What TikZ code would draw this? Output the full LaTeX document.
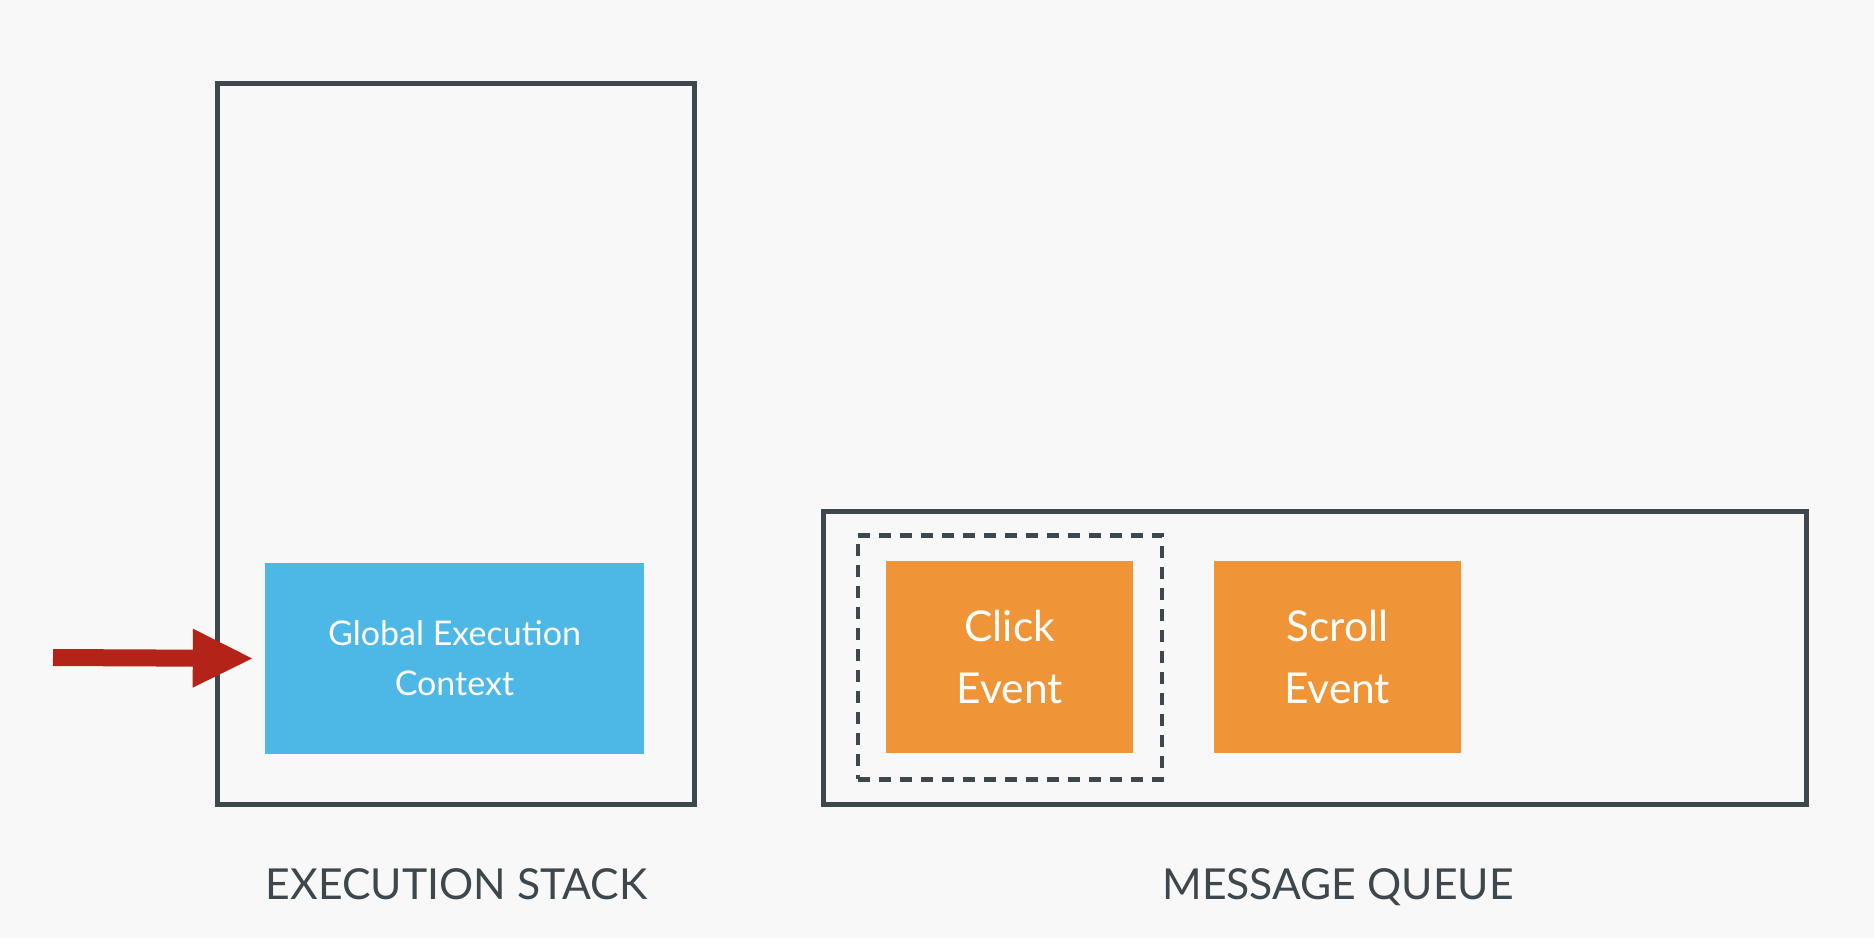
\documentclass[tikz,border=0pt]{standalone}
\usepackage{fontspec}
\setmainfont{Lato}
\usetikzlibrary{arrows.meta}
\definecolor{bgcol}{HTML}{F8F8F8}
\definecolor{framecol}{HTML}{3D484E}
\definecolor{gecblue}{HTML}{4DB7E5}
\definecolor{evorange}{HTML}{EF9537}
\definecolor{ptrred}{HTML}{B42318}
\tikzset{
  frame/.style={draw=framecol, line width=5pt, rectangle, inner sep=0pt, outer sep=0pt},
  dashbox/.style={draw=framecol, line width=4.5pt, rectangle, inner sep=0pt,
    dash pattern=on 12pt off 9pt},
  gecbox/.style={fill=gecblue, text=white, rectangle, inner sep=0pt,
    minimum width=379pt, minimum height=191pt, align=center,
    font=\fontsize{34pt}{50pt}\selectfont},
  eventbox/.style={fill=evorange, text=white, rectangle, inner sep=0pt,
    minimum width=247pt, minimum height=192pt, align=center,
    font=\fontsize{42.5pt}{62pt}\selectfont},
  caption/.style={text=framecol, anchor=base, inner sep=0pt,
    font=\fontsize{42.7pt}{50pt}\selectfont},
  pointer/.style={draw=ptrred, line width=17pt,
    -{Triangle[length=61pt,width=54pt]}, shorten >=11pt}
}
\begin{document}
\begin{tikzpicture}[x=1pt,y=-1pt]
  % canvas
  \fill[bgcol] (0,0) rectangle (1874,938);
  \useasboundingbox (0,0) rectangle (1874,938);

  % execution stack
  \node[frame, minimum width=477pt, minimum height=721pt] (stack) at (455.5,444) {};
  \node[gecbox] (gec) at (454.5,658.5) {Global Execution\\Context};

  % message queue
  \node[frame, minimum width=983pt, minimum height=293pt] (queue) at (1315.3,657.7) {};
  \node[dashbox, minimum width=304pt, minimum height=244pt] (current) at (1010,657.4) {};
  \node[eventbox] (click) at (1009.8,657.3) {Click\\Event};
  \node[eventbox] (scroll) at (1337.2,657.3) {Scroll\\Event};

  % captions
  \node[caption] (stacklabel) at (456.5,899) {EXECUTION STACK};
  \node[caption] (queuelabel) at (1338,899) {MESSAGE QUEUE};

  % pointer into the stack
  \coordinate (ptrstart) at (53,657.5);
  \draw[pointer] (ptrstart) -- (gec.west);
\end{tikzpicture}
\end{document}
